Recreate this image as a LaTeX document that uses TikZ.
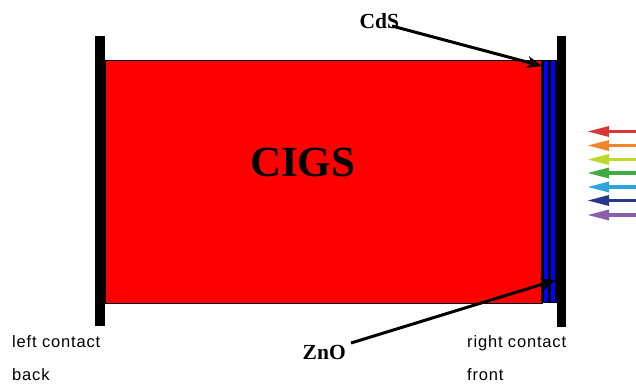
\documentclass[tikz,border=0pt]{standalone}
\usepackage{fontspec}
\setmainfont{Liberation Serif}
\setsansfont{Liberation Sans}[LetterSpace=5]
\usetikzlibrary{arrows.meta}
\definecolor{rayRed}{RGB}{215,55,55}
\definecolor{rayOrange}{RGB}{240,135,45}
\definecolor{rayYellow}{RGB}{190,215,45}
\definecolor{rayGreen}{RGB}{65,170,65}
\definecolor{rayCyan}{RGB}{45,165,220}
\definecolor{rayNavy}{RGB}{40,55,140}
\definecolor{rayPurple}{RGB}{140,95,170}
\tikzset{
  contact/.style={fill=black, draw=none},
  label/.style={font=\sffamily\fontsize{16.5}{17}\selectfont, anchor=base west},
  layerlabel/.style={font=\bfseries\fontsize{21.5}{22}\selectfont, anchor=base west, inner sep=0pt},
  pointer/.style={line width=3pt, -{Stealth[length=15pt,width=12pt,inset=4pt]}},
  ray/.style={line width=3.2pt, -{Triangle[length=22pt,width=10pt]}}
}
\begin{document}
\begin{tikzpicture}[x=1pt,y=-1pt]
\useasboundingbox (0,0) rectangle (636,386);
% absorber
\node[draw=black, line width=1pt, fill=red, minimum width=437pt, minimum height=243pt, inner sep=0pt, anchor=north west] (cigs) at (104.5,59.5) {};
\node[font=\bfseries\fontsize{43}{44}\selectfont, anchor=base west, inner sep=0pt] (cigslabel) at (250,176.5) {CIGS};
% window layers
\node[fill=black, minimum width=16pt, minimum height=243pt, inner sep=0pt, anchor=north west] (window) at (541,59.5) {};
\node[fill=blue, minimum width=4pt, minimum height=241pt, inner sep=0pt, anchor=north west] (cds) at (543.5,60.5) {};
\node[fill=blue, minimum width=4pt, minimum height=241pt, inner sep=0pt, anchor=north west] (zno) at (551,60.5) {};
% contacts
\node[contact, minimum width=10pt, minimum height=290pt, inner sep=0pt, anchor=north west] (leftc) at (95,36) {};
\node[contact, minimum width=9pt, minimum height=291pt, inner sep=0pt, anchor=north west] (rightc) at (557,36) {};
% labels
\node[layerlabel] (cdslabel) at (359.5,28) {CdS};
\node[layerlabel] (znolabel) at (302.5,359) {ZnO};
\coordinate (cdstip) at (542,66);
\coordinate (znotip) at (556,280);
\coordinate (cdsstart) at (392,26);
\coordinate (znostart) at (351,343);
\draw[pointer] (cdsstart) -- (cdstip);
\draw[pointer] (znostart) -- (znotip);
\node[label, inner sep=0pt] (lc) at (12,347) {left contact};
\node[label, inner sep=0pt] (bk) at (12,380) {back};
\node[label, inner sep=0pt] (rc) at (467,347) {right contact};
\node[label, inner sep=0pt] (fr) at (467,380) {front};
% light
\foreach \c/\y [count=\i] in {rayRed/131.5,rayOrange/145.5,rayYellow/159.5,rayGreen/173,rayCyan/187,rayNavy/200.5,rayPurple/215}{
  \coordinate (raystart\i) at (640,\y);
  \coordinate (rayend\i) at (587,\y);
  \draw[ray, draw=\c, fill=\c] (raystart\i) -- (rayend\i);
}
\end{tikzpicture}
\end{document}
